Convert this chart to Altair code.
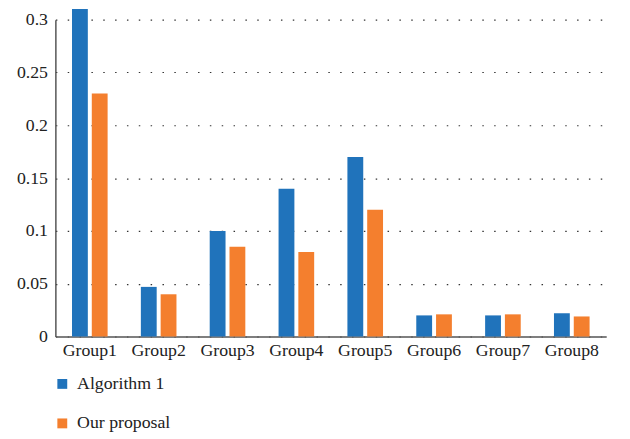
import altair as alt
import pandas as pd

groups = ["Group1", "Group2", "Group3", "Group4", "Group5", "Group6", "Group7", "Group8"]
algorithm1 = [0.31, 0.047, 0.1, 0.14, 0.17, 0.02, 0.02, 0.022]
proposal = [0.23, 0.04, 0.085, 0.08, 0.12, 0.021, 0.021, 0.019]
series = ["Algorithm 1", "Our proposal"]
colors = ["#2073BB", "#F47F2E"]
y_ticks = [0, 0.05, 0.1, 0.15, 0.2, 0.25, 0.3]

rows = []
for g, a, p in zip(groups, algorithm1, proposal):
    rows.append({"group": g, "series": series[0], "value": a})
    rows.append({"group": g, "series": series[1], "value": p})
df = pd.DataFrame(rows)

FONT = "Liberation Serif"

chart = alt.Chart(df).mark_bar(clip=False).encode(
    x=alt.X("group:N", sort=groups, title=None,
            scale=alt.Scale(paddingInner=0, paddingOuter=0),
            axis=alt.Axis(labelAngle=0, ticks=False, labelPadding=5,
                          labelFontSize=18, labelFont=FONT, labelColor="#222",
                          domainColor="#555", domainWidth=1.5)),
    xOffset=alt.XOffset("series:N", sort=series,
                        scale=alt.Scale(paddingInner=0.2, paddingOuter=0.84)),
    y=alt.Y("value:Q", title=None,
            scale=alt.Scale(domain=[0, 0.3], nice=False),
            axis=alt.Axis(values=y_ticks, format="~g", ticks=False, labelPadding=8,
                          labelFontSize=18, labelFont=FONT, labelColor="#222",
                          domainColor="#555", domainWidth=1.5,
                          grid=True, gridDash=[1.5, 10.5], gridColor="#333",
                          gridWidth=1.2)),
    color=alt.Color("series:N", sort=series,
                    scale=alt.Scale(domain=series, range=colors),
                    legend=alt.Legend(title=None, orient="none", legendX=-2, legendY=360,
                                      symbolType="square", symbolSize=100,
                                      symbolStrokeWidth=0,
                                      labelFontSize=18, labelFont=FONT, labelColor="#222",
                                      rowPadding=22, labelOffset=6)),
).properties(
    width=558, height=321,
    autosize=alt.AutoSizeParams(type="none"),
    padding={"left": 48, "top": 9, "right": 16, "bottom": 101},
).configure_view(stroke=None).configure_axisX(grid=False)

chart.save("out.html", embed_options={"renderer": "svg", "actions": False})
